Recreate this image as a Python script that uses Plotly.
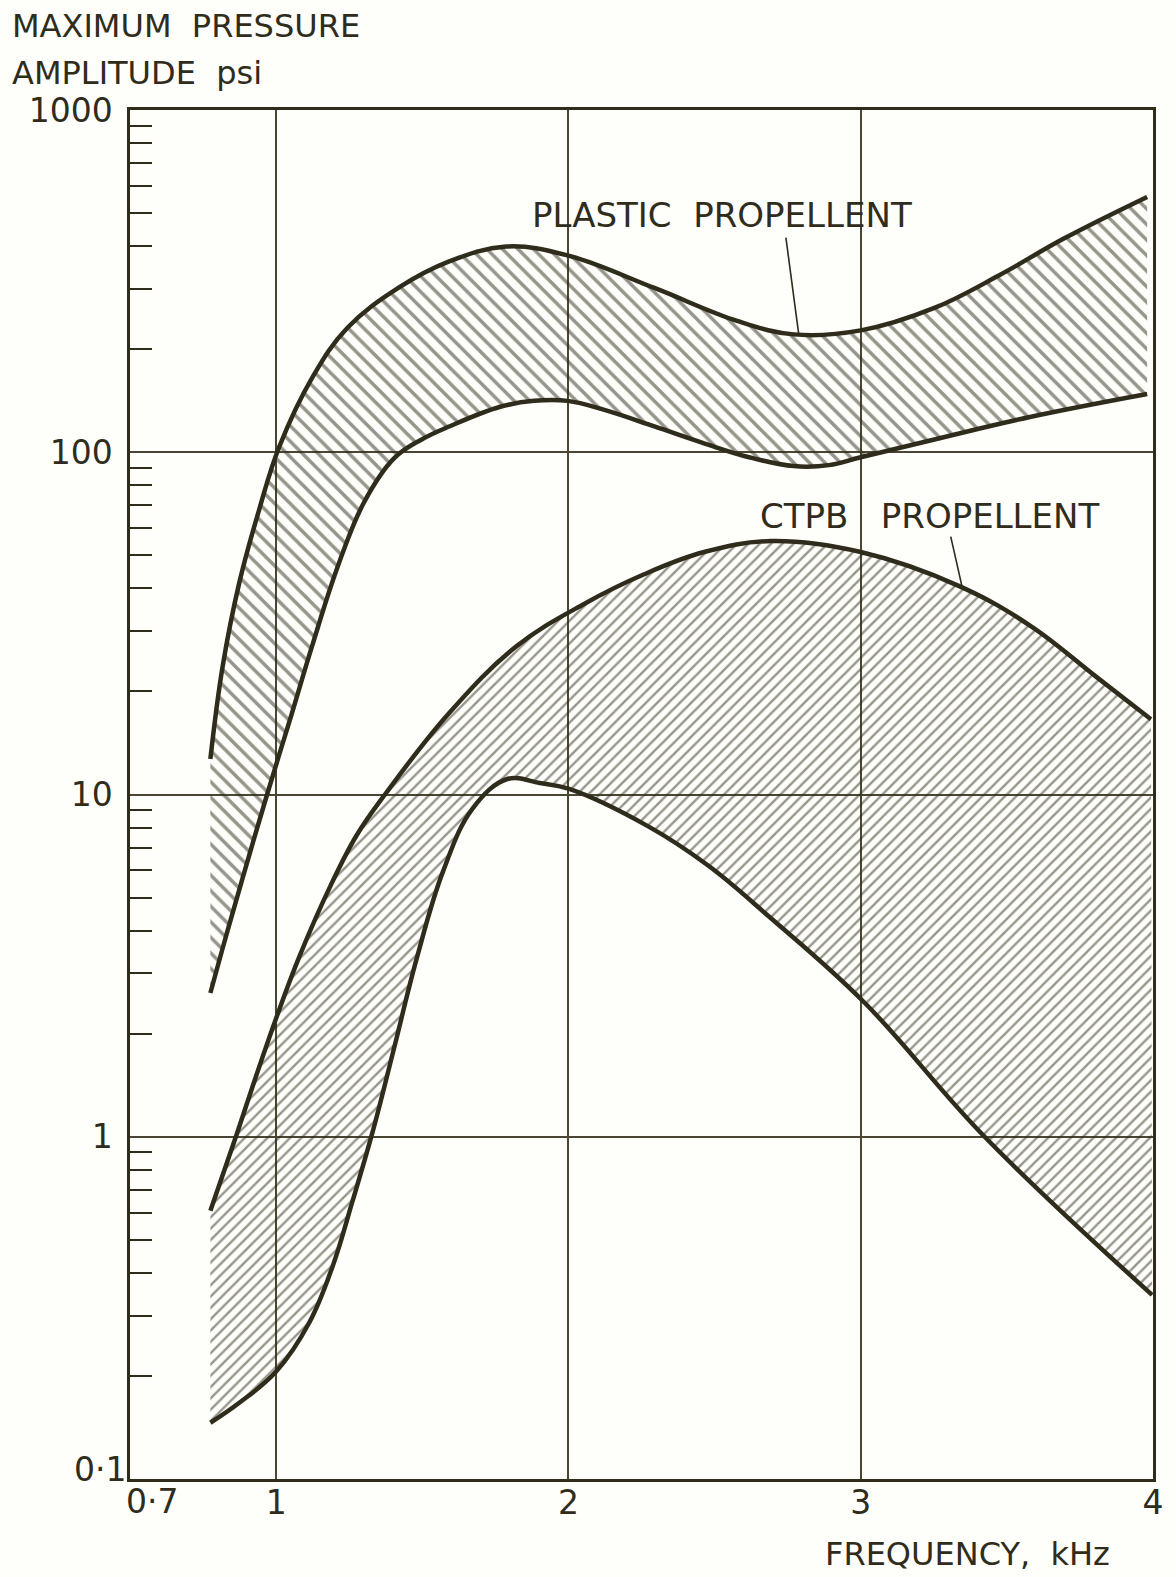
import plotly.graph_objects as go

# ---- data (frequency kHz, maximum pressure amplitude psi) ----
plastic_upper_f = [0.775, 0.816, 0.874, 0.942, 1.010, 1.125, 1.244, 1.418, 1.592, 1.787, 1.997,
                   2.294, 2.577, 2.771, 3.0, 3.252, 3.474, 3.695, 3.98]
plastic_upper_p = [12.7, 23.4, 41.6, 68, 103.4, 166, 231, 302, 361, 399, 376,
                   302, 242, 221, 227, 264, 329, 421, 557]

plastic_lower_f = [0.775, 0.816, 0.884, 0.969, 1.045, 1.125, 1.209, 1.300, 1.404, 1.498, 1.592,
                   1.767, 1.882, 1.997, 2.123, 2.294, 2.464, 2.618, 2.771, 2.891, 3.0, 3.252,
                   3.583, 3.98]
plastic_lower_p = [2.63, 3.53, 5.65, 10, 16.3, 27.5, 45.9, 71.2, 96.1, 109, 118.9,
                   135.8, 141.3, 141.3, 133, 119, 106.2, 96.7, 91.1, 91.7, 96.7, 109,
                   127, 148]

ctpb_upper_f = [0.775, 0.864, 0.932, 1.0, 1.08, 1.185, 1.275, 1.376, 1.592, 1.822, 2.055,
                2.259, 2.464, 2.693, 3.0, 3.341, 3.583, 3.805, 3.993]
ctpb_upper_p = [0.608, 1.01, 1.51, 2.22, 3.37, 5.39, 7.59, 10.1, 17.3, 27.1, 36.1,
                44.0, 51.1, 55.0, 51.1, 40.5, 31.0, 22.1, 16.6]

ctpb_lower_f = [0.775, 0.874, 1.0, 1.114, 1.194, 1.261, 1.331, 1.401, 1.481, 1.571, 1.672,
                1.791, 1.902, 2.0, 2.273, 2.478, 2.686, 3.01, 3.424, 3.997]
ctpb_lower_p = [0.146, 0.167, 0.206, 0.287, 0.42, 0.647, 1.04, 1.78, 3.32, 5.96, 9.1,
                11.1, 10.8, 10.4, 8.07, 6.2, 4.4, 2.48, 1.0, 0.345]

# leader lines for the labels
plastic_leader_f = [2.744, 2.788]
plastic_leader_p = [424, 221]
ctpb_leader_f = [3.308, 3.348]
ctpb_leader_p = [56.7, 40]

x_tickvals = [1, 2, 3, 4]
x_ticktext = ["1", "2", "3", "4"]
y_tickvals = [1, 10, 100, 1000]
y_ticktext = ["1", "10", "100", "1000"]
y_minor = [m * 10 ** e for e in (-1, 0, 1, 2) for m in range(2, 10)]

INK = "#2f2c1c"
GRID = "#4a4633"
FONT = "DejaVu Sans"

fig = go.Figure()

def band(lf, lp, uf, up, shape, size, solidity):
    fig.add_trace(go.Scatter(x=lf, y=lp, mode="lines",
                             line=dict(color=INK, width=4.5, shape="spline", smoothing=1.1),
                             hoverinfo="skip", showlegend=False))
    fig.add_trace(go.Scatter(x=uf, y=up, mode="lines", fill="tonexty",
                             fillcolor="rgba(0,0,0,0)",
                             fillpattern=dict(shape=shape, fgcolor=INK, bgcolor="rgba(0,0,0,0)",
                                              size=size, solidity=solidity),
                             line=dict(color=INK, width=4.5, shape="spline", smoothing=1.1),
                             hoverinfo="skip", showlegend=False))

band(plastic_lower_f, plastic_lower_p, plastic_upper_f, plastic_upper_p, "\\", 11, 0.32)
band(ctpb_lower_f, ctpb_lower_p, ctpb_upper_f, ctpb_upper_p, "/", 8, 0.3)

for lf, lp in ((plastic_leader_f, plastic_leader_p), (ctpb_leader_f, ctpb_leader_p)):
    fig.add_trace(go.Scatter(x=lf, y=lp, mode="lines", line=dict(color=INK, width=1.6),
                             hoverinfo="skip", showlegend=False))

tfont = dict(family=FONT, size=32, color=INK)
kfont = dict(family=FONT, size=33, color=INK)
lfont = dict(family=FONT, size=34, color=INK)

annotations = [
    dict(text="MAXIMUM  PRESSURE", xref="paper", yref="paper", x=-0.117, y=1.061,
         xanchor="left", yanchor="middle", showarrow=False, font=tfont),
    dict(text="AMPLITUDE  psi", xref="paper", yref="paper", x=-0.117, y=1.027,
         xanchor="left", yanchor="middle", showarrow=False, font=tfont),
    dict(text="FREQUENCY,  kHz", xref="paper", yref="paper", x=0.677, y=-0.055,
         xanchor="left", yanchor="middle", showarrow=False, font=tfont),
    dict(text="PLASTIC  PROPELLENT", x=2.525, y=2.694, xref="x", yref="y",
         xanchor="center", yanchor="middle", showarrow=False, font=lfont),
    dict(text="CTPB   PROPELLENT", x=3.235, y=1.813, xref="x", yref="y",
         xanchor="center", yanchor="middle", showarrow=False, font=lfont),
    dict(text="0·7", x=0.5, y=-1, xref="x", yref="y", xanchor="left", yanchor="top",
         xshift=-6, yshift=-1, showarrow=False, font=kfont),
    dict(text="0·1", x=0, y=-1, xref="paper", yref="y", xanchor="right", yanchor="middle",
         xshift=-2, yshift=10, showarrow=False, font=kfont),
]

fig.update_layout(
    width=1176, height=1577,
    margin=dict(l=130, r=15, t=110, b=98),
    paper_bgcolor="#fefefb", plot_bgcolor="#fefefb",
    annotations=annotations,
    showlegend=False,
)
fig.update_xaxes(range=[0.5, 4], tickvals=x_tickvals, ticktext=x_ticktext,
                 showgrid=True, gridcolor=GRID, gridwidth=1.5,
                 showline=True, linecolor=INK, linewidth=2.5, mirror=True,
                 ticks="", ticklabelstandoff=-7, tickfont=kfont, zeroline=False)
fig.update_yaxes(type="log", range=[-1, 3], tickvals=y_tickvals, ticktext=y_ticktext,
                 showgrid=True, gridcolor=GRID, gridwidth=1.5,
                 showline=True, linecolor=INK, linewidth=2.5, mirror=True,
                 ticks="", ticklabelstandoff=8, tickfont=kfont, zeroline=False,
                 minor=dict(tickvals=y_minor, ticks="inside", ticklen=22,
                            tickcolor=INK, tickwidth=2, showgrid=False))

fig.write_html("out.html")
